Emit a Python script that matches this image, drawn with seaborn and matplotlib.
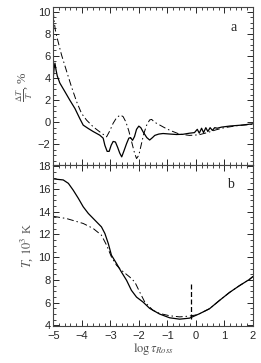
import numpy as np
import pandas as pd
import matplotlib
matplotlib.use("Agg")
import matplotlib.pyplot as plt
import seaborn as sns
from matplotlib.ticker import MultipleLocator

# panel a: relative temperature difference, %
xa_solid = [-5.0, -4.97, -4.94, -4.90, -4.86, -4.77, -4.59, -4.42, -4.24, -4.07, -3.95,
            -3.77, -3.60, -3.37, -3.25, -3.19, -3.11, -3.04, -2.97, -2.90, -2.82, -2.74,
            -2.67, -2.60, -2.52, -2.43, -2.35, -2.29, -2.22, -2.15, -2.08, -2.00, -1.93,
            -1.85, -1.72, -1.62, -1.52, -1.44, -1.30, -1.15, -0.90, -0.68, -0.45, -0.22,
            -0.05, 0.05, 0.12, 0.20, 0.27, 0.35, 0.42, 0.50, 0.58, 0.66, 0.75, 0.90,
            1.20, 1.60, 2.00]
ya_solid = [4.0, 4.9, 5.35, 4.7, 4.2, 3.55, 2.76, 2.0, 1.24, 0.33, -0.27,
            -0.58, -0.85, -1.18, -1.45, -2.1, -2.65, -2.65, -2.1, -1.75, -1.8, -2.3,
            -2.8, -3.15, -2.6, -1.95, -1.45, -1.4, -1.65, -1.3, -0.65, -0.36, -0.5,
            -0.88, -1.4, -1.62, -1.4, -1.2, -1.08, -1.03, -1.08, -1.12, -1.1, -1.0,
            -0.95, -0.65, -1.0, -0.55, -0.95, -0.5, -0.85, -0.5, -0.75, -0.5, -0.55, -0.45,
            -0.35, -0.27, -0.15]

xa_dash = [-5.0, -4.97, -4.93, -4.88, -4.71, -4.53, -4.36, -4.18, -4.01, -3.83, -3.60,
           -3.37, -3.13, -3.02, -2.90, -2.78, -2.65, -2.55, -2.45, -2.35, -2.25, -2.15,
           -2.08, -2.00, -1.92, -1.83, -1.73, -1.62, -1.55, -1.45, -1.26, -1.10, -0.92,
           -0.57, -0.22, 0.10, 0.40, 0.70, 1.00, 1.50, 2.00]
ya_dash = [10.1, 9.2, 8.4, 7.8, 6.1, 4.6, 3.2, 1.85, 0.8, 0.18, -0.42,
           -0.88, -1.33, -0.8, -0.1, 0.4, 0.65, 0.5, 0.0, -0.8, -1.8, -2.8,
           -3.3, -3.0, -2.1, -1.1, -0.3, 0.2, 0.25, 0.0, -0.27, -0.5, -0.73,
           -1.09, -1.2, -1.15, -0.95, -0.7, -0.5, -0.3, -0.2]

# panel b: temperature, 10^3 K
xb_solid = [-5.0, -4.88, -4.65, -4.47, -4.30, -4.12, -3.95, -3.77, -3.54, -3.31, -3.19,
            -3.07, -2.96, -2.78, -2.61, -2.43, -2.26, -2.08, -1.85, -1.62, -1.27, -0.92,
            -0.57, -0.22, 0.13, 0.48, 0.83, 1.18, 1.53, 1.88, 2.00]
yb_solid = [16.9, 16.86, 16.8, 16.5, 15.9, 15.18, 14.44, 13.85, 13.26, 12.67, 12.09,
            11.2, 10.18, 9.44, 8.7, 7.97, 7.09, 6.49, 6.05, 5.5, 5.0, 4.67,
            4.55, 4.64, 5.03, 5.47, 6.2, 6.9, 7.5, 8.05, 8.3]

xb_dash = [-5.0, -4.53, -3.95, -3.60, -3.31, -3.13, -2.96, -2.78, -2.61, -2.32, -2.14,
           -1.97, -1.79, -1.50, -1.27, -0.92, -0.57, -0.22, 0.00, 0.13, 0.48, 0.83,
           1.18, 1.53, 1.88, 2.00]
yb_dash = [13.6, 13.4, 12.97, 12.53, 11.94, 11.06, 10.03, 9.29, 8.85, 8.26, 7.82,
           6.94, 6.05, 5.32, 5.05, 4.85, 4.75, 4.82, 4.92, 5.03, 5.47, 6.2,
           6.9, 7.5, 8.05, 8.3]

vline_x = -0.18
vline_y = [4.6, 7.75]

sns.set_style("ticks")
plt.rcParams['font.family'] = ['Liberation Sans', 'DejaVu Sans']
plt.rcParams['mathtext.fontset'] = 'stix'

fig = plt.figure(figsize=(2.61, 3.63), dpi=100)
ax1 = fig.add_axes([0.204, 0.545, 0.765, 0.436])
ax2 = fig.add_axes([0.204, 0.102, 0.765, 0.443])

dashdot = (0, (7, 3, 1.5, 3))
sns.lineplot(x=xa_solid, y=ya_solid, ax=ax1, color='black', lw=0.9)
sns.lineplot(x=xa_dash, y=ya_dash, ax=ax1, color='black', lw=0.7, linestyle=dashdot)
sns.lineplot(x=xb_solid, y=yb_solid, ax=ax2, color='black', lw=0.9)
sns.lineplot(x=xb_dash, y=yb_dash, ax=ax2, color='black', lw=0.7, linestyle=dashdot)
ax2.plot([vline_x, vline_x], vline_y, color='black', lw=0.9, linestyle=(0, (4, 2)))

ax1.set_ylim(-3.9, 10.45)
ax2.set_ylim(3.95, 18.1)
label_font = dict(family='Liberation Serif', size=9, color='#555555')
for ax in (ax1, ax2):
    ax.set_xlim(-5, 2)
    ax.xaxis.set_major_locator(MultipleLocator(1))
    ax.xaxis.set_minor_locator(MultipleLocator(0.2))
    ax.yaxis.set_major_locator(MultipleLocator(2))
    ax.yaxis.set_minor_locator(MultipleLocator(0.5))
    ax.tick_params(which='both', direction='in', top=True, right=True, labelsize=8, pad=2)
    ax.tick_params(axis='x', which='major', pad=3.5)
    ax.tick_params(which='major', length=4, width=0.7)
    ax.tick_params(which='minor', length=2, width=0.6)
    for s in ax.spines.values():
        s.set_linewidth(0.8)
        s.set_color('#444444')

ax1.tick_params(labelbottom=False)
ax1.text(0.89, 0.85, 'a', transform=ax1.transAxes, fontfamily='Liberation Serif', fontsize=10)
ax2.text(0.87, 0.86, 'b', transform=ax2.transAxes, fontfamily='Liberation Serif', fontsize=10)

ax1.set_ylabel(r'$\frac{\Delta T}{T}$, %', fontdict=label_font, labelpad=2)
ax2.set_ylabel(r'$T$, $10^3$ K', fontdict=label_font, labelpad=2)
ax2.set_xlabel(r'$\log\tau_{Ross}$', fontdict=label_font, labelpad=0)

fig.savefig('out.png', dpi=100)
